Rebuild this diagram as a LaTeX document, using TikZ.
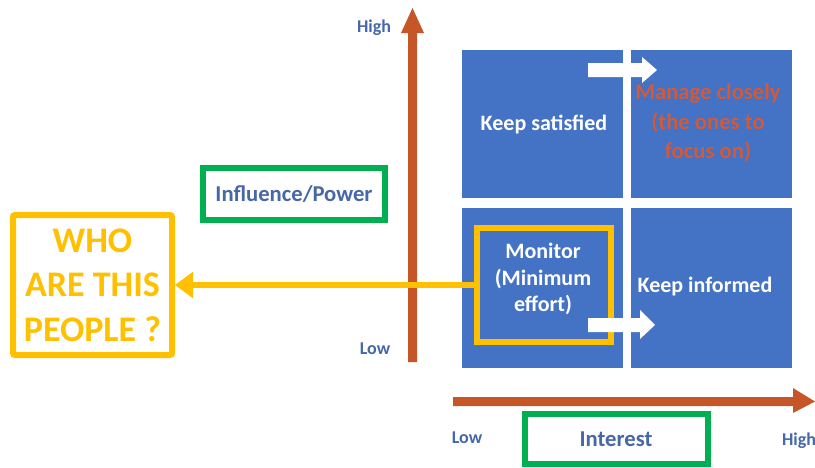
\documentclass[tikz,border=0pt]{standalone}
\usepackage{fontspec}
\setmainfont{Carlito}
\usetikzlibrary{arrows.meta}
\definecolor{quadblue}{HTML}{4472C4}
\definecolor{axisorange}{HTML}{C65527}
\definecolor{hlyellow}{HTML}{FFC000}
\definecolor{boxgreen}{HTML}{00B050}
\definecolor{labelblue}{HTML}{4667A8}
\definecolor{focusred}{HTML}{CF5A3C}
\begin{document}
\begin{tikzpicture}[x=0.75pt,y=-0.75pt,
  quad/.style={fill=quadblue, draw=none, minimum width=120.75pt, inner sep=0pt},
  quadtext/.style={text=white, font=\bfseries\fontsize{16.5}{20}\selectfont, align=center},
  axislabel/.style={text=labelblue, font=\bfseries\fontsize{13.5}{16}\selectfont},
  greenbox/.style={draw=boxgreen, line width=4.5pt, text=labelblue, inner sep=0pt},
  yellowbox/.style={draw=hlyellow, line width=4.5pt, inner sep=0pt}]
\useasboundingbox (0,0) rectangle (815,468);
% axes
\fill[axisorange] (408,362) -- (417,362) -- (417,33) -- (424,33) -- (412.5,8) -- (401,33) -- (408,33) -- cycle;
\fill[axisorange] (453,397) -- (793,397) -- (793,388) -- (815,401.5) -- (793,413) -- (793,406) -- (453,406) -- cycle;
% quadrants
\node[quad, minimum height=111pt] (tl) at (542.5,124) {};
\node[quad, minimum height=111pt] (tr) at (711.5,124) {};
\node[quad, minimum height=120pt] (bl) at (542.5,288) {};
\node[quad, minimum height=120pt] (br) at (711.5,288) {};
% yellow highlight box
\node[yellowbox, minimum width=100.5pt, minimum height=85.5pt] (mon) at (544,285) {};
% white arrows
\fill[white] (588,63) -- (642,63) -- (642,57) -- (657,70) -- (642,83) -- (642,77) -- (588,77) -- cycle;
\fill[white] (588,318) -- (640,318) -- (640,310) -- (655,325) -- (640,339) -- (640,332) -- (588,332) -- cycle;
% quadrant texts
\node[quadtext] (ks) at (544,124) {Keep satisfied};
\node[quadtext, text=focusred, font=\bfseries\fontsize{17}{22}\selectfont] (mc) at (708,123) {Manage closely\\(the ones to\\focus on)};
\node[quadtext] (mt) at (543,279) {Monitor\\(Minimum\\effort)};
\node[quadtext] (ki) at (705,287) {Keep informed};
% who box
\node[yellowbox, rounded corners=1.5pt, minimum width=119.25pt, minimum height=105pt, text=hlyellow, align=center, font=\bfseries\fontsize{27}{33.5}\selectfont] (who) at (92.5,285) {WHO\\ARE THIS\\PEOPLE ?};
% connector
\draw[hlyellow, line width=4.5pt, -{Triangle[length=13.5pt,width=19pt]}] (mon.west) -- (who.east);
% green boxes
\node[greenbox, minimum width=136.5pt, minimum height=39pt, font=\bfseries\fontsize{17}{20}\selectfont] (inf) at (294,194) {Influence/Power};
\node[greenbox, minimum width=137.25pt, minimum height=37.5pt, font=\bfseries\fontsize{17}{20}\selectfont] (int) at (616,439) {Interest};
% axis labels
\node[axislabel] (vhigh) at (374,28) {High};
\node[axislabel] (vlow) at (375,349) {Low};
\node[axislabel] (hlow) at (467,438) {Low};
\node[axislabel] (hhigh) at (799,441) {High};
\end{tikzpicture}
\end{document}
